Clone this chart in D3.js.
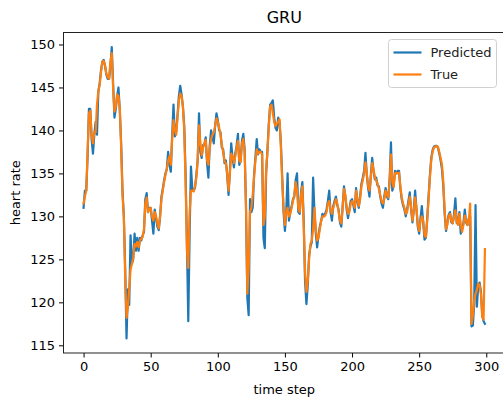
<!DOCTYPE html>
<html>
<head>
<meta charset="utf-8">
<script src="https://cdn.jsdelivr.net/npm/d3@7"></script>
<style>
  body { margin: 0; background: #fff; }
  text { font-family: "DejaVu Sans", sans-serif; }
</style>
</head>
<body>
<div id="chart"></div>
<script>
// values, one per time step (0..299)
const trueValues = [
  131.5,132.3,133.0,137.5,142.0,142.3,139.5,138.5,139.8,139.8,
  143.0,144.6,145.3,146.8,148.0,148.1,147.5,146.6,146.2,146.0,
  148.0,149.0,145.0,142.2,142.8,144.2,144.0,142.6,138.0,132.5,
  130.0,123.0,118.2,119.5,121.5,123.8,124.5,125.2,126.8,126.5,
  127.0,126.4,127.2,127.4,127.6,128.5,131.5,132.2,130.5,130.8,
  131.0,130.0,129.5,130.5,130.0,129.2,128.6,130.0,132.0,133.0,
  134.0,134.8,135.5,136.5,137.0,136.0,139.0,141.2,140.0,139.5,
  141.5,143.5,144.3,144.0,142.8,140.0,134.0,126.0,124.0,130.5,
  133.0,133.0,132.9,133.5,134.5,136.5,140.6,138.5,137.1,138.0,
  138.5,138.9,136.5,136.0,138.0,139.0,139.5,139.8,140.5,141.4,
  141.0,140.3,139.5,138.3,137.5,136.4,136.2,135.0,133.0,135.0,
  137.3,137.0,136.2,137.0,138.0,138.8,136.5,136.3,138.5,139.0,
  137.5,131.5,121.0,124.0,130.5,131.0,132.5,134.5,136.5,137.8,
  137.3,137.5,137.5,137.2,129.0,130.0,135.5,137.5,140.5,142.8,
  143.0,142.0,141.0,140.5,140.8,141.0,141.3,138.0,134.0,131.0,
  129.0,130.5,131.0,130.0,130.3,131.0,131.8,132.5,134.0,133.0,
  131.0,130.5,132.5,133.5,129.0,123.5,121.2,122.5,125.0,126.8,
  127.2,128.5,131.0,128.5,127.2,127.5,128.5,129.5,130.0,130.0,
  130.1,130.5,131.5,131.8,130.8,130.3,131.0,131.5,132.0,131.5,
  130.5,129.5,129.2,131.0,133.2,132.5,131.0,130.3,130.5,131.5,
  131.8,131.5,131.0,133.0,132.0,131.2,132.0,133.5,134.2,135.0,
  136.3,135.0,133.5,133.0,134.5,136.2,135.5,134.5,134.2,133.8,
  133.2,132.5,131.8,131.5,132.0,133.0,132.5,132.2,134.0,137.2,
  134.0,133.4,135.0,135.1,135.0,135.1,133.5,132.2,131.5,131.0,
  130.3,130.5,131.5,132.3,131.0,129.5,130.5,132.2,131.0,129.0,
  128.3,129.5,130.0,129.5,127.8,127.6,129.5,132.0,134.5,136.5,
  137.5,138.0,138.1,138.2,138.1,137.5,136.8,136.0,134.0,130.7,
  128.5,129.0,130.0,130.3,129.5,129.2,130.0,130.7,129.4,129.0,
  130.3,129.0,128.2,129.0,130.1,129.5,129.0,129.5,131.5,117.5,
  118.5,120.2,121.0,121.4,122.2,122.0,121.0,118.3,118.0,126.2
]

const predictedValues = [
  131.0,133.0,133.0,137.0,142.5,142.5,139.0,137.3,139.5,141.0,
  139.5,144.5,145.5,147.0,148.0,148.2,147.5,146.5,146.0,146.0,
  147.5,149.7,145.5,141.5,142.5,144.0,145.0,142.3,138.5,133.0,
  130.0,124.0,115.8,121.5,119.7,127.8,124.5,125.0,128.0,126.0,
  127.5,126.0,127.5,127.2,127.8,128.2,132.0,132.7,130.5,131.0,
  131.0,129.5,128.0,130.8,129.8,128.8,128.4,130.0,132.3,133.2,
  134.2,135.0,135.5,137.5,136.0,135.2,139.5,143.0,139.3,139.8,
  141.8,144.0,145.2,144.2,142.8,140.5,135.0,127.0,117.8,128.0,
  135.8,133.2,133.0,133.3,134.8,136.5,142.0,137.5,136.8,138.3,
  138.3,139.2,136.2,134.5,138.3,140.0,139.3,138.5,140.5,142.0,
  141.2,140.0,139.8,138.0,137.8,136.2,136.5,134.8,132.5,135.3,
  138.5,136.8,135.7,137.3,138.2,139.6,136.0,136.5,138.8,139.6,
  137.8,131.0,120.5,118.5,132.0,130.5,131.0,134.8,136.8,139.0,
  137.2,137.8,137.5,137.5,127.5,126.3,135.0,137.8,140.8,143.0,
  143.2,143.5,141.5,140.3,140.0,141.5,141.0,138.5,134.5,130.5,
  128.3,130.5,135.0,129.5,130.5,131.2,132.0,132.3,134.2,135.0,
  130.5,130.3,132.8,134.0,129.5,122.5,119.8,122.0,125.5,126.5,
  127.0,134.5,130.5,128.0,126.4,127.8,128.8,129.5,130.3,130.0,
  130.3,130.8,131.8,133.0,130.5,129.5,131.2,131.8,132.3,131.3,
  130.8,129.3,128.8,131.2,133.5,132.3,130.8,129.8,130.8,131.8,
  132.0,131.3,130.5,133.3,131.8,131.0,132.3,133.8,134.5,135.3,
  137.4,134.8,133.3,132.3,134.8,136.8,135.3,134.3,134.5,133.6,
  133.5,132.3,131.5,131.0,132.3,133.3,132.3,132.0,134.3,138.6,
  133.0,133.6,135.3,135.0,135.3,135.3,133.3,132.0,131.3,130.8,
  130.0,130.8,131.8,132.8,130.8,129.3,130.8,133.0,130.8,128.8,
  128.0,129.8,131.2,129.3,127.3,127.5,129.8,132.3,134.8,136.8,
  137.7,138.1,138.2,138.2,138.0,137.3,136.5,135.5,133.5,130.3,
  128.3,129.3,130.2,130.5,129.3,129.2,130.3,132.1,129.2,129.3,
  130.5,128.0,128.5,129.3,130.8,129.3,129.0,129.8,130.0,117.2,
  117.3,119.8,131.3,119.5,122.0,122.3,121.3,118.5,117.8,117.5
]

const seriesNames = ["Predicted", "True"]
const seriesColors = ["#1f77b4", "#ff7f0e"]
const xTicks = [0, 50, 100, 150, 200, 250, 300]
const yTicks = [115, 120, 125, 130, 135, 140, 145, 150]

const dimensions = {
  width: 503,
  height: 401,
  margin: { top: 32.5, right: -2, bottom: 48, left: 63.5 },
}
dimensions.boundedWidth = dimensions.width - dimensions.margin.left - dimensions.margin.right
dimensions.boundedHeight = dimensions.height - dimensions.margin.top - dimensions.margin.bottom

const svg = d3.select("#chart").append("svg")
  .attr("width", dimensions.width)
  .attr("height", dimensions.height)
  .style("display", "block")

const bounds = svg.append("g")
  .attr("transform", `translate(${dimensions.margin.left},${dimensions.margin.top})`)

// matplotlib style 5% margins
const n = trueValues.length
const xPad = (n - 1) * 0.05
const xScale = d3.scaleLinear()
  .domain([-xPad, n - 1 + xPad])
  .range([0, dimensions.boundedWidth])

const allValues = trueValues.concat(predictedValues)
const [yMin, yMax] = d3.extent(allValues)
const yPad = (yMax - yMin) * 0.05
const yScale = d3.scaleLinear()
  .domain([yMin - yPad, yMax + yPad])
  .range([dimensions.boundedHeight, 0])

// lines
const lineGenerator = d3.line()
  .x((d, i) => xScale(i))
  .y(d => yScale(d))

const allSeries = [predictedValues, trueValues]
allSeries.forEach((values, k) => {
  bounds.append("path")
    .attr("d", lineGenerator(values))
    .attr("fill", "none")
    .attr("stroke", seriesColors[k])
    .attr("stroke-width", 2.2)
    .attr("stroke-linejoin", "round")
    .attr("stroke-linecap", "square")
})

// axes
const xAxis = bounds.append("g")
  .attr("transform", `translate(0,${dimensions.boundedHeight})`)
  .call(d3.axisBottom(xScale).tickValues(xTicks).tickSize(4.5).tickPadding(4))
const yAxis = bounds.append("g")
  .call(d3.axisLeft(yScale).tickValues(yTicks).tickSize(4.5).tickPadding(4))

;[xAxis, yAxis].forEach(ax => {
  ax.select(".domain").remove()
  ax.selectAll("line").attr("stroke", "#000").attr("stroke-width", 1)
  ax.selectAll("text")
    .attr("fill", "#000")
    .style("font-size", "13px")
    .style("font-family", "'DejaVu Sans', sans-serif")
})

// frame
bounds.append("rect")
  .attr("x", 0)
  .attr("y", 0)
  .attr("width", dimensions.boundedWidth)
  .attr("height", dimensions.boundedHeight)
  .attr("fill", "none")
  .attr("stroke", "#222")
  .attr("stroke-width", 1)

// title and labels
svg.append("text")
  .attr("x", dimensions.margin.left + dimensions.boundedWidth / 2)
  .attr("y", 23)
  .attr("text-anchor", "middle")
  .style("font-size", "16px")
  .text("GRU")

svg.append("text")
  .attr("x", dimensions.margin.left + dimensions.boundedWidth / 2)
  .attr("y", 394)
  .attr("text-anchor", "middle")
  .style("font-size", "13px")
  .text("time step")

svg.append("text")
  .attr("transform", `translate(20,${dimensions.margin.top + dimensions.boundedHeight / 2}) rotate(-90)`)
  .attr("text-anchor", "middle")
  .style("font-size", "13px")
  .text("heart rate")

// legend
const legend = svg.append("g").attr("transform", "translate(388.5,39.5)")
legend.append("rect")
  .attr("width", 108)
  .attr("height", 48)
  .attr("rx", 3)
  .attr("fill", "#fff")
  .attr("fill-opacity", 0.8)
  .attr("stroke", "#d0d0d0")
  .attr("stroke-width", 1)

seriesNames.forEach((name, k) => {
  const y = 13 + k * 22
  legend.append("line")
    .attr("x1", 5).attr("x2", 33)
    .attr("y1", y).attr("y2", y)
    .attr("stroke", seriesColors[k])
    .attr("stroke-width", 2.2)
  legend.append("text")
    .attr("x", 42)
    .attr("y", y + 4.5)
    .style("font-size", "13px")
    .attr("fill", "#222")
    .text(name)
})
</script>
</body>
</html>
